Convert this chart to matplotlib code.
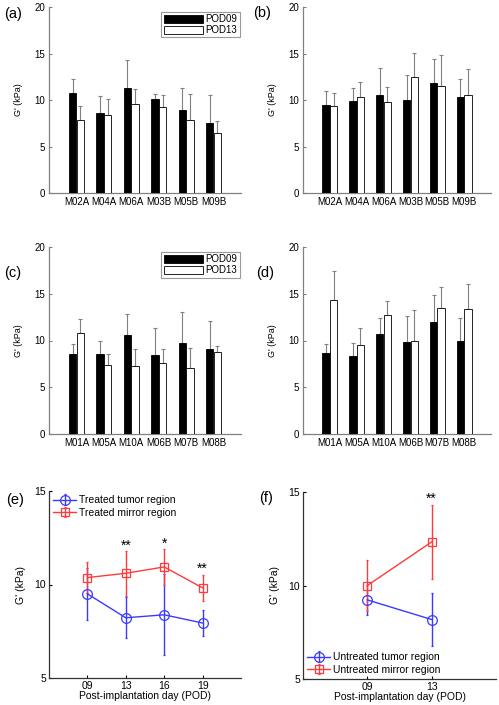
import numpy as np
import matplotlib
matplotlib.use("Agg")
import matplotlib.pyplot as plt

plt.rcParams['font.family'] = ['Liberation Sans', 'DejaVu Sans']

# ---- data ----
labels_ab = ["M02A", "M04A", "M06A", "M03B", "M05B", "M09B"]
labels_cd = ["M01A", "M05A", "M10A", "M06B", "M07B", "M08B"]

a_pod09 = [10.7, 8.65, 11.25, 10.1, 8.9, 7.5]
a_pod09_err = [1.6, 1.75, 3.05, 0.5, 2.4, 3.0]
a_pod13 = [7.85, 8.35, 9.55, 9.25, 7.9, 6.5]
a_pod13_err = [1.55, 1.75, 1.6, 1.25, 2.7, 1.2]

b_pod09 = [9.5, 9.9, 10.55, 10.0, 11.85, 10.35]
b_pod09_err = [1.45, 1.35, 2.9, 2.7, 2.55, 1.9]
b_pod13 = [9.35, 10.3, 9.75, 12.5, 11.5, 10.55]
b_pod13_err = [1.45, 1.65, 1.65, 2.55, 3.3, 2.8]

c_pod09 = [8.6, 8.55, 10.6, 8.5, 9.7, 9.05]
c_pod09_err = [1.0, 1.4, 2.2, 2.85, 3.3, 3.0]
c_pod13 = [10.75, 7.35, 7.25, 7.6, 7.05, 8.75]
c_pod13_err = [1.5, 1.2, 1.8, 1.45, 2.2, 0.7]

d_pod09 = [8.7, 8.35, 10.7, 9.8, 12.0, 10.0]
d_pod09_err = [0.9, 1.4, 1.7, 2.8, 2.9, 2.4]
d_pod13 = [14.35, 9.55, 12.75, 10.0, 13.5, 13.35]
d_pod13_err = [3.1, 1.8, 1.5, 3.25, 2.2, 2.65]

e_days = ["09", "13", "16", "19"]
e_tumor = [9.5, 8.22, 8.38, 7.94]
e_tumor_err = [1.39, 1.1, 2.17, 0.68]
e_mirror = [10.37, 10.6, 10.94, 9.82]
e_mirror_err = [0.82, 1.2, 0.97, 0.7]
e_stars = ["", "**", "*", "**"]

f_days = ["09", "13"]
f_tumor = [9.23, 8.18]
f_tumor_err = [0.82, 1.43]
f_mirror = [10.0, 12.33]
f_mirror_err = [1.35, 2.0]
f_stars = ["", "**"]

W, H = 499, 705
fig = plt.figure(figsize=(W / 100, H / 100), dpi=100)


def ax_px(l, t, r, b):
    return fig.add_axes([l / W, 1 - b / H, (r - l) / W, (b - t) / H])


def tag_px(x, y, s):
    fig.text(x / W, 1 - y / H, s, fontsize=10.5, va="center", ha="left")


GRAY = "#808080"


def bar_panel(ax, labels, v9, e9, v13, e13, legend):
    x = np.arange(1, len(labels) + 1)
    w = 0.27
    ax.bar(x - 0.14, v9, w, color="black", edgecolor="black", linewidth=0.6, label="POD09", zorder=3)
    ax.bar(x + 0.14, v13, w, color="white", edgecolor="black", linewidth=0.6, label="POD13", zorder=3)
    ax.errorbar(x - 0.14, v9, yerr=[np.zeros(len(v9)), e9], fmt="none", ecolor=GRAY,
                elinewidth=0.8, capsize=1.2, capthick=0.8, zorder=2)
    ax.errorbar(x + 0.14, v13, yerr=[np.zeros(len(v13)), e13], fmt="none", ecolor=GRAY,
                elinewidth=0.8, capsize=1.2, capthick=0.8, zorder=2)
    ax.set_xlim(0, 7)
    ax.set_ylim(0, 20)
    ax.set_xticks(x)
    ax.set_xticklabels(labels, fontsize=7)
    ax.set_yticks([0, 5, 10, 15, 20])
    ax.tick_params(axis="x", length=0, pad=3)
    ax.tick_params(axis="y", direction="in", length=2.5, labelsize=7, color=GRAY, pad=3)
    for s in ["top", "right"]:
        ax.spines[s].set_visible(False)
    for s in ["left", "bottom"]:
        ax.spines[s].set_color(GRAY)
        ax.spines[s].set_linewidth(0.9)
    ax.set_ylabel("G' (kPa)", fontsize=6.5, labelpad=8)
    if legend:
        leg = ax.legend(loc="upper right", bbox_to_anchor=(0.995, 0.975), fontsize=7,
                        frameon=True, fancybox=False, edgecolor=GRAY, handlelength=4.0,
                        handleheight=0.9, handletextpad=0.3, borderpad=0.25, labelspacing=0.1,
                        borderaxespad=0.0)
        leg.get_frame().set_linewidth(0.8)


def line_panel(ax, days, tumor, terr, mirror, merr, stars, labels, legloc, xmax):
    x = np.arange(1, len(days) + 1)
    ax.errorbar(x, tumor, yerr=terr, color="#3a3aff", marker="o", markersize=7, mfc="none",
                mew=0.9, lw=1.0, elinewidth=1.0, capsize=0.8, label=labels[0])
    ax.errorbar(x, mirror, yerr=merr, color="#ff3a3a", marker="s", markersize=5.5, mfc="none",
                mew=0.9, lw=1.0, elinewidth=1.0, capsize=0.8, label=labels[1])
    for xi, s, m, me, t, te in zip(x, stars, mirror, merr, tumor, terr):
        if s:
            top = max(m + me, t + te)
            ax.text(xi, top + 0.08, s, ha="center", va="baseline", fontsize=10)
    ax.set_xlim(0, xmax)
    ax.set_ylim(5, 15)
    ax.set_xticks(x)
    ax.set_xticklabels(days, fontsize=7.5)
    ax.set_yticks([5, 10, 15])
    ax.tick_params(direction="in", length=2.5, labelsize=7.5, pad=2)
    for s in ["top", "right"]:
        ax.spines[s].set_visible(False)
    for s in ["left", "bottom"]:
        ax.spines[s].set_color("#333333")
        ax.spines[s].set_linewidth(0.9)
    ax.set_ylabel("G' (kPa)", fontsize=7.5, labelpad=6)
    ax.set_xlabel("Post-implantation day (POD)", fontsize=7.5, labelpad=0)
    ax.legend(loc=legloc, fontsize=7.5, frameon=False, handlelength=2.2, handletextpad=0.3,
              labelspacing=0.25, borderaxespad=0.2, borderpad=0.2)


ax_a = ax_px(49, 7, 241, 193)
bar_panel(ax_a, labels_ab, a_pod09, a_pod09_err, a_pod13, a_pod13_err, True)
ax_b = ax_px(303, 7, 491, 193)
bar_panel(ax_b, labels_ab, b_pod09, b_pod09_err, b_pod13, b_pod13_err, False)
ax_c = ax_px(49, 247, 241, 434)
bar_panel(ax_c, labels_cd, c_pod09, c_pod09_err, c_pod13, c_pod13_err, True)
ax_d = ax_px(303, 247, 491, 434)
bar_panel(ax_d, labels_cd, d_pod09, d_pod09_err, d_pod13, d_pod13_err, False)

ax_e = ax_px(49, 491, 241, 678)
line_panel(ax_e, e_days, e_tumor, e_tumor_err, e_mirror, e_mirror_err, e_stars,
           ["Treated tumor region", "Treated mirror region"], "upper left", 5)
ax_f = ax_px(303, 492, 496, 679)
line_panel(ax_f, f_days, f_tumor, f_tumor_err, f_mirror, f_mirror_err, f_stars,
           ["Untreated tumor region", "Untreated mirror region"], "lower left", 3)

tag_px(4, 14, "(a)")
tag_px(253, 13, "(b)")
tag_px(4, 273, "(c)")
tag_px(256, 273, "(d)")
tag_px(6, 500, "(e)")
tag_px(259, 498, "(f)")

fig.savefig("out.png", dpi=100)
